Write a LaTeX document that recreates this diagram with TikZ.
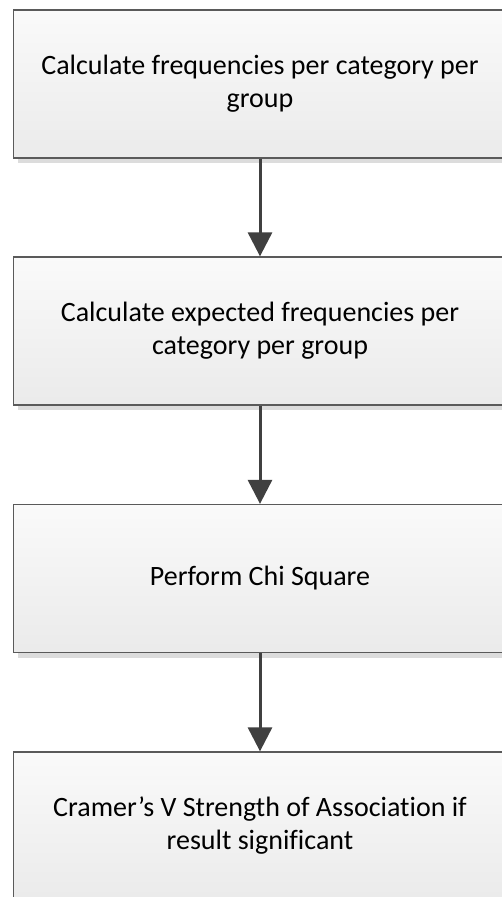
\documentclass[tikz,border=0pt]{standalone}
\usepackage{fontspec}
\setmainfont[RawFeature={-liga}]{Carlito}
\usetikzlibrary{arrows.meta,shadows}
\definecolor{boxline}{HTML}{5A5A5A}
\definecolor{arrowcol}{HTML}{404040}
\definecolor{shadowcol}{HTML}{DCDCDC}
\newcommand{\sh}{\hspace*{-7pt}}
\tikzset{
  stepbox/.style={rectangle, draw=boxline, line width=1.3pt,
    top color=white!98!black, bottom color=white!92!black,
    minimum width=500pt, minimum height=148pt, inner sep=0pt,
    align=center, font=\fontsize{28}{33}\selectfont,
    drop shadow={shadow xshift=4pt, shadow yshift=-5pt, fill=shadowcol, opacity=1}},
  flow/.style={draw=arrowcol, line width=3pt, -{Triangle[width=24pt,length=24pt]}}
}
\begin{document}
\begin{tikzpicture}[x=1pt,y=-1pt]
\useasboundingbox (0,0) rectangle (502,897);
\fill[white] (0,0) rectangle (502,897);
\node[stepbox] (a) at (263.5,84) {\sh Calculate frequencies per category per\\\sh group};
\node[stepbox] (b) at (263.5,331) {\sh Calculate expected frequencies per\\\sh category per group};
\node[stepbox] (c) at (263.5,578.5) {\sh Perform Chi Square};
\node[stepbox] (d) at (263.5,826) {\sh Cramer’s V Strength of Association if\\\sh result significant};
\draw[flow] ([xshift=-3.5pt]a.south) -- ([xshift=-3.5pt]b.north);
\draw[flow] ([xshift=-3.5pt]b.south) -- ([xshift=-3.5pt]c.north);
\draw[flow] ([xshift=-3.5pt]c.south) -- ([xshift=-3.5pt]d.north);
\end{tikzpicture}
\end{document}
